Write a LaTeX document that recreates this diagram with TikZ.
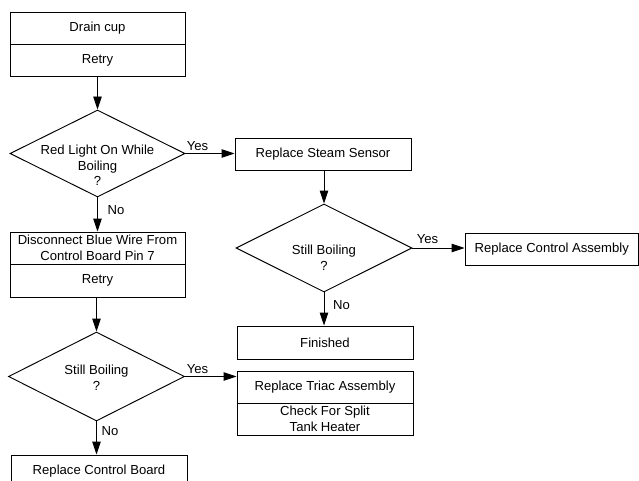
\documentclass[tikz,border=0pt]{standalone}
\usepackage{fontspec}
\setmainfont{Liberation Sans}
\usetikzlibrary{arrows.meta,shapes.geometric}
\begin{document}
\begin{tikzpicture}[x=1pt,y=-1pt,
  every node/.style={font=\fontsize{13.1}{15.5}\selectfont},
  box/.style={draw,line width=0.95pt,rectangle,inner sep=0pt,align=center},
  dia/.style={draw,line width=0.95pt,diamond,inner sep=0pt},
  txt/.style={align=center,inner sep=0pt},
  lbl/.style={inner sep=0pt},
  arr/.style={line width=0.95pt,-{Triangle[length=13pt,width=8.5pt]}}]
\useasboundingbox (0,0) rectangle (639,481);
\clip (0,0) rectangle (639,481);
% left column top
\node[box,minimum width=175pt,minimum height=32pt] (b1a) at (97.5,28) {Drain cup};
\node[box,minimum width=175pt,minimum height=32pt] (b1b) at (97.5,60) {Retry};
\node[dia,minimum width=175pt,minimum height=87pt] (d1) at (97.5,153.5) {};
\node[txt] (d1t) at (97.5,165.5) {Red Light On While\\Boiling\\?};
% right column
\node[box,minimum width=176pt,minimum height=32pt] (s1) at (323,154) {Replace Steam Sensor};
\node[dia,minimum width=176pt,minimum height=88pt] (d2) at (324,248) {};
\node[txt] (d2t) at (324,258) {Still Boiling\\?};
\node[box,minimum width=173.5pt,minimum height=32.5pt] (ca) at (551.75,249.25) {Replace Control Assembly};
\node[box,minimum width=176pt,minimum height=33pt] (fin) at (325,342.5) {Finished};
\node[box,minimum width=176pt,minimum height=32pt] (t1) at (325,387) {Replace Triac Assembly};
\node[box,minimum width=176pt,minimum height=32pt] (t2) at (325,419) {Check For Split\\Tank Heater};
% left column bottom
\node[box,minimum width=175pt,minimum height=32pt] (b2a) at (97.5,248) {Disconnect Blue Wire From\\Control Board Pin 7};
\node[box,minimum width=175pt,minimum height=33pt] (b2b) at (97.5,280.5) {Retry};
\node[dia,minimum width=176pt,minimum height=89pt] (d3) at (96.5,376.5) {};
\node[txt] (d3t) at (96.5,378) {Still Boiling\\?};
\node[box,minimum width=176pt,minimum height=32pt] (rcb) at (99,471) {Replace Control Board};
% connectors
\draw[arr] (b1b.south) -- (d1.north);
\draw[arr] (d1.east) -- (s1.west |- d1.east);
\draw[arr] (d2.north |- s1.south) -- (d2.north);
\draw[arr] (d2.east) -- (ca.west |- d2.east);
\draw[arr] (d2.south) -- (d2.south |- fin.north);
\draw[arr] (d1.south) -- (d1.south |- b2a.north);
\draw[arr] (d3.north |- b2b.south) -- (d3.north);
\draw[arr] (d3.east) -- (t1.west |- d3.east);
\draw[arr] (d3.south) -- (d3.south |- rcb.north);
% labels
\node[lbl] (y1) at (197.5,146) {Yes};
\node[lbl] (n1) at (116,210) {No};
\node[lbl] (y2) at (427.5,239.5) {Yes};
\node[lbl] (n2) at (341.5,305) {No};
\node[lbl] (y3) at (197.5,369) {Yes};
\node[lbl] (n3) at (110,431) {No};
\end{tikzpicture}
\end{document}
